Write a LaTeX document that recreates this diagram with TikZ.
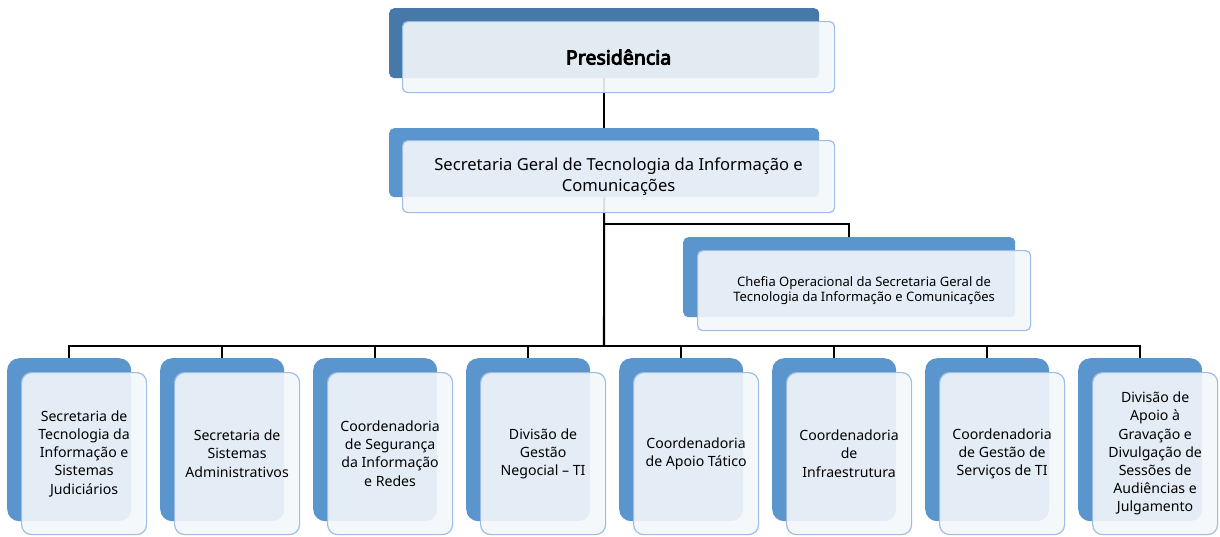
\documentclass[tikz,border=0pt]{standalone}
\usepackage{fontspec}
\setmainfont{Noto Sans}
\newfontface\presbold{Noto Sans}[FakeBold=4.5]
\usetikzlibrary{backgrounds}
\definecolor{backblue}{HTML}{5A96CD}
\definecolor{backdark}{HTML}{4678A8}
\definecolor{frontline}{HTML}{9DBDE2}
\definecolor{frontfill}{HTML}{F4F7FB}
\tikzset{
  backbox/.style={draw=none, fill=backblue, rounded corners=#1, inner sep=0pt, anchor=north west},
  frontbox/.style={draw=frontline, line width=1.2pt, fill=frontfill, fill opacity=0.9, text opacity=1,
    rounded corners=#1, align=center, inner sep=0pt, anchor=north west},
  conn/.style={draw=black, line width=2.1pt},
  lowtxt/.style={font=\fontsize{14.1}{18.2}\selectfont},
}
\begin{document}
\begin{tikzpicture}[x=1pt,y=-1pt]
\useasboundingbox (0,0) rectangle (1220,536);
% Presidencia
\node[backbox=5pt, fill=backdark, minimum width=430pt, minimum height=70pt] (presB) at (389,8) {};
\node[frontbox=5pt, minimum width=432pt, minimum height=71pt, font=\presbold\fontsize{19.5}{22}\selectfont] (pres) at (402,21) {Presidência};
% Secretaria Geral
\node[backbox=5pt, minimum width=430pt, minimum height=69pt] (sgtB) at (389,128) {};
\node[frontbox=5pt, minimum width=432pt, minimum height=72pt, font=\fontsize{16.6}{21}\selectfont] (sgt) at (402,140) {Secretaria Geral de Tecnologia da Informação e\\Comunicações};
% Chefia
\node[backbox=5pt, minimum width=332pt, minimum height=80pt] (chefB) at (683,237) {};
\node[frontbox=5pt, minimum width=333pt, minimum height=80pt, font=\fontsize{13}{15.5}\selectfont] (chef) at (697,250) {Chefia Operacional da Secretaria Geral de\\Tecnologia da Informação e Comunicações};
% bottom row
\foreach \i/\txt in {
  1/{Secretaria de\\Tecnologia da\\Informação e\\Sistemas\\Judiciários},
  2/{Secretaria de\\Sistemas\\Administrativos},
  3/{Coordenadoria\\de Segurança\\da Informação\\e Redes},
  4/{Divisão de\\Gestão\\Negocial – TI},
  5/{Coordenadoria\\de Apoio Tático},
  6/{Coordenadoria\\de\\Infraestrutura},
  7/{Coordenadoria\\de Gestão de\\Serviços de TI},
  8/{Divisão de\\Apoio à\\Gravação e\\Divulgação de\\Sessões de\\Audiências e\\Julgamento}} {
  \pgfmathsetmacro{\L}{7+153*(\i-1)}
  \node[backbox=12pt, minimum width=124pt, minimum height=163pt] (b\i B) at (\L,358) {};
  \node[frontbox=10pt, minimum width=125pt, minimum height=162pt, lowtxt] (b\i) at (\L+14,372) {\txt};
}
\coordinate (br) at (604,224);
\coordinate (bus) at (604,346);
\begin{pgfonlayer}{background}
  \draw[conn] (presB.south) -- (sgtB.north);
  \draw[conn] (sgtB.south) -- (bus);
  \draw[conn] (br) -| (chefB.north);
  \foreach \i in {1,...,8} { \draw[conn] (bus) -| (b\i B.north); }
\end{pgfonlayer}
\end{tikzpicture}
\end{document}
